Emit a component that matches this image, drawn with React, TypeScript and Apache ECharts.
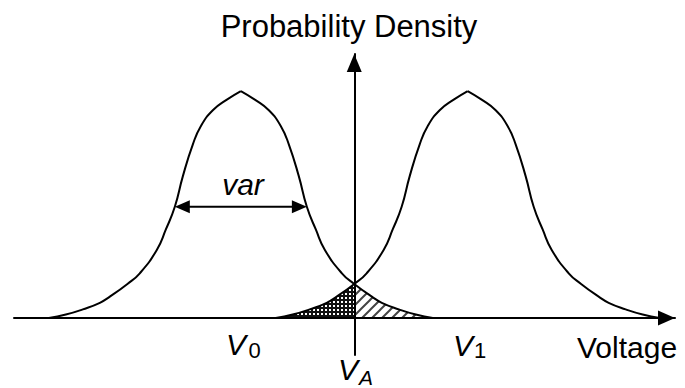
import React, { useEffect, useRef } from "react";
import * as echarts from "echarts";

// Means of the two distributions and the decision threshold (voltage units)
const V0 = -1;
const V1 = 1;
const VA = 0;

// One half of each (symmetric) density curve: distance from the mean -> density (peak = 1)
const halfOffsets = [0, 0.123, 0.247, 0.353, 0.423, 0.511, 0.582, 0.661, 0.741, 0.891, 1.0, 1.155, 1.243, 1.393, 1.543, 1.693];
const halfDensity = [1.0, 0.962, 0.915, 0.845, 0.765, 0.625, 0.49, 0.39, 0.3, 0.197, 0.15, 0.094, 0.067, 0.038, 0.015, 0.0];

// index in the half-curve where the tail crosses the threshold VA
const tailStart = 10;
// index of the level where "var" is measured
const varIndex = 6;

const xRange = [-3, 2.828];
const yRange = [-0.163, 1.163];

const FONT = "'Liberation Sans', Arial, sans-serif";

function half(center: number, sign: number) {
  return halfOffsets.map((o, i) => [center + sign * o, halfDensity[i]]);
}

function dotsPattern(): string {
  const c = document.createElement("canvas");
  c.width = 4;
  c.height = 4;
  const ctx = c.getContext("2d")!;
  ctx.fillStyle = "#111";
  ctx.fillRect(0, 0, 4, 4);
  ctx.fillStyle = "#ffffff";
  ctx.fillRect(1, 1, 2, 2);
  return c.toDataURL();
}

function hatchPattern(): string {
  const c = document.createElement("canvas");
  c.width = 10;
  c.height = 10;
  const ctx = c.getContext("2d")!;
  ctx.fillStyle = "#ffffff";
  ctx.fillRect(0, 0, 10, 10);
  ctx.strokeStyle = "#444";
  ctx.lineWidth = 2;
  ctx.beginPath();
  ctx.moveTo(0, 10);
  ctx.lineTo(10, 0);
  ctx.moveTo(-2, 2);
  ctx.lineTo(2, -2);
  ctx.moveTo(8, 12);
  ctx.lineTo(12, 8);
  ctx.stroke();
  return c.toDataURL();
}

export default function App() {
  const ref = useRef<HTMLDivElement>(null);
  useEffect(() => {
    if (!ref.current) return;
    const chart = echarts.init(ref.current, undefined, { renderer: "svg" });

    const dotted = halfOffsets.slice(tailStart).map((o, i) => [V1 - o, halfDensity[tailStart + i]]);
    const hatched = halfOffsets.slice(tailStart).map((o, i) => [V0 + o, halfDensity[tailStart + i]]);

    const curveSeries = (data: number[][]) => ({
      type: "line",
      data,
      smooth: 0.5,
      symbol: "none",
      showSymbol: false,
      lineStyle: { color: "#000", width: 2 },
      silent: true,
      z: 4,
    });

    const axisCommon = {
      axisTick: { show: false },
      axisLabel: { show: false },
      splitLine: { show: false },
    };

    const text = (t: string, x: number, y: number, size: number, italic = false, align = "left") => ({
      type: "text",
      x,
      y,
      silent: true,
      style: {
        text: t,
        fill: "#000",
        fontSize: size,
        fontFamily: FONT,
        fontStyle: italic ? "italic" : "normal",
        align,
        verticalAlign: "middle",
      },
    });

    chart.setOption({
      animation: false,
      grid: { left: 14, right: 10, top: 54, bottom: 33 },
      xAxis: {
        type: "value",
        min: xRange[0],
        max: xRange[1],
        z: 5,
        axisLine: {
          show: true,
          onZero: true,
          symbol: ["none", "triangle"],
          symbolSize: [15, 17],
          symbolOffset: [0, -8.5],
          lineStyle: { color: "#000", width: 2 },
        },
        ...axisCommon,
      },
      yAxis: {
        type: "value",
        min: yRange[0],
        max: yRange[1],
        z: 5,
        axisLine: {
          show: true,
          onZero: true,
          symbol: ["none", "triangle"],
          symbolSize: [15, 18],
          symbolOffset: [0, -9],
          lineStyle: { color: "#000", width: 2 },
        },
        ...axisCommon,
      },
      series: [
        {
          type: "line",
          data: dotted,
          smooth: 0.5,
          symbol: "none",
          lineStyle: { width: 0 },
          areaStyle: { color: { image: dotsPattern(), repeat: "repeat", imageWidth: 4, imageHeight: 4 }, opacity: 1 },
          silent: true,
          z: 2,
        },
        {
          type: "line",
          data: hatched,
          smooth: 0.5,
          symbol: "none",
          lineStyle: { width: 0 },
          areaStyle: { color: { image: hatchPattern(), repeat: "repeat", imageWidth: 10, imageHeight: 10 }, opacity: 1 },
          silent: true,
          z: 2,
        },
        curveSeries(half(V0, -1)),
        curveSeries(half(V0, 1)),
        curveSeries(half(V1, -1)),
        curveSeries(half(V1, 1)),
      ],
    });

    // "var" double-headed arrow, positioned through the chart's own scales
    const pA = chart.convertToPixel({ gridIndex: 0 }, [V0 - halfOffsets[varIndex], halfDensity[varIndex]]) as number[];
    const pB = chart.convertToPixel({ gridIndex: 0 }, [V0 + halfOffsets[varIndex], halfDensity[varIndex]]) as number[];
    const headLen = 15;
    const headHalf = 6.5;
    const y = pA[1];

    chart.setOption({
      graphic: [
        text("Probability Density", 349, 26.5, 31, false, "center"),
        text("var", 243, 184.5, 30, true, "center"),
        {
          type: "line",
          silent: true,
          shape: { x1: pA[0] + headLen - 1, y1: y, x2: pB[0] - headLen + 1, y2: y },
          style: { stroke: "#000", lineWidth: 2 },
        },
        {
          type: "polygon",
          silent: true,
          shape: { points: [[pA[0], y], [pA[0] + headLen, y - headHalf], [pA[0] + headLen, y + headHalf]] },
          style: { fill: "#000" },
        },
        {
          type: "polygon",
          silent: true,
          shape: { points: [[pB[0], y], [pB[0] - headLen, y - headHalf], [pB[0] - headLen, y + headHalf]] },
          style: { fill: "#000" },
        },
        text("Voltage", 577, 347, 30),
        text("V", 226, 344.5, 30, true),
        text("0", 248.5, 350, 22),
        text("V", 453, 345, 30, true),
        text("1", 474, 350, 22),
        text("V", 338, 369.5, 30, true),
        text("A", 359, 377.5, 21, true),
      ],
    });
    void VA;
    return () => chart.dispose();
  }, []);
  return (
    <div
      ref={ref}
      style={{ position: "absolute", left: 0, top: 0, width: 685, height: 388, background: "#fff" }}
    />
  );
}
